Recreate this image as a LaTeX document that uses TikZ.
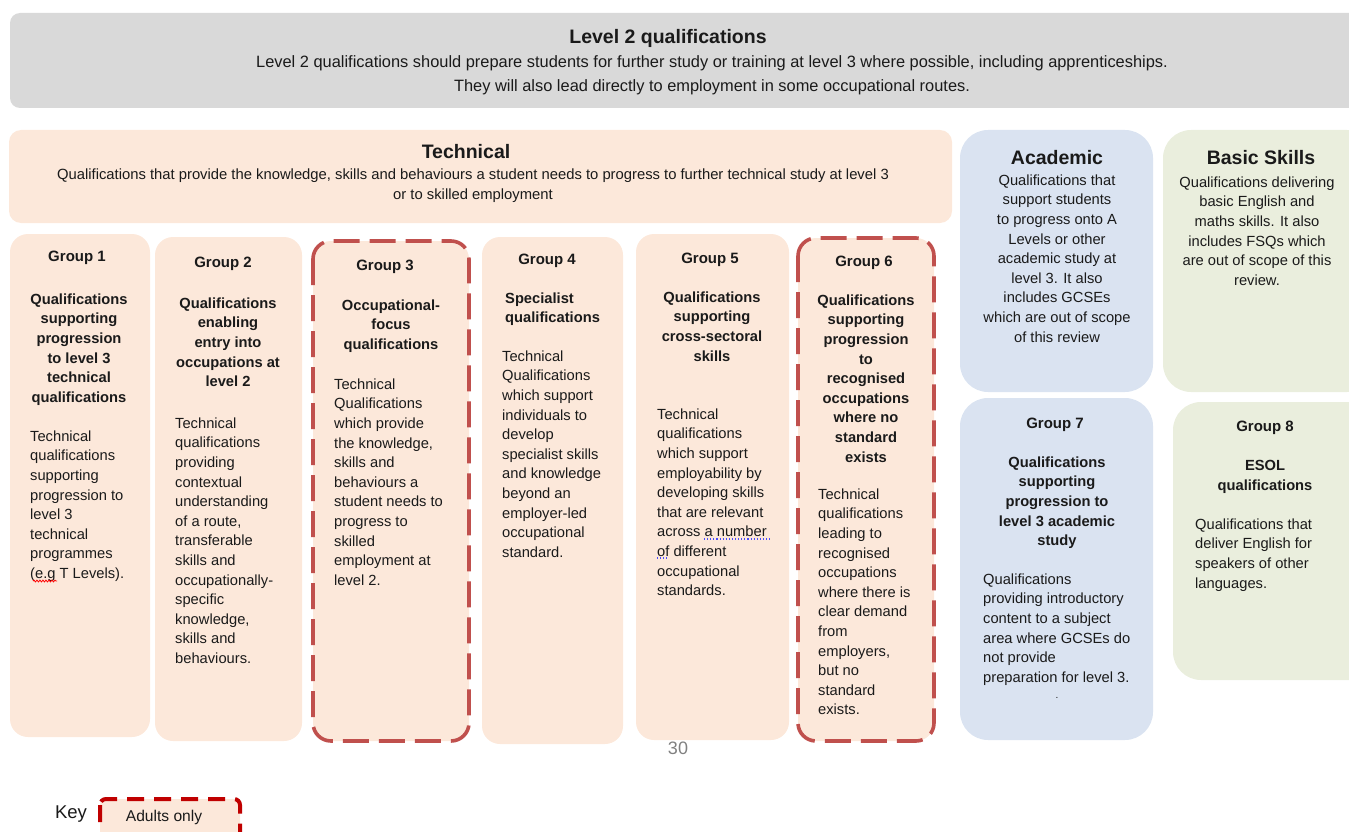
\documentclass[tikz,border=0pt]{standalone}
\usepackage{fontspec}
\setmainfont{Liberation Sans}
\usetikzlibrary{decorations.pathmorphing}
\definecolor{peach}{HTML}{FCE8DA}
\definecolor{bannergray}{HTML}{D9D9D9}
\definecolor{acblue}{HTML}{DAE3F1}
\definecolor{bsgreen}{HTML}{EAEEDD}
\definecolor{adultred}{HTML}{C0504D}
\definecolor{keyred}{HTML}{C00000}
\definecolor{txt}{HTML}{1A1A1A}
\begin{document}
\begin{tikzpicture}[x=1pt,y=-1pt,
  box/.style={fill=peach, rounded corners=18pt},
  adult/.style={draw=adultred, line width=3.6pt, dash pattern=on 26pt off 10pt},
  t/.style={inner sep=0pt, text=txt, font=\fontsize{14.7}{19.6}\selectfont, anchor=north west, align=left},
  tc/.style={t, anchor=north, align=center},
  bc/.style={tc, font=\bfseries\fontsize{14.7}{19.6}\selectfont},
  bl/.style={t, font=\bfseries\fontsize{14.7}{19.6}\selectfont},
  grp/.style={inner sep=0pt, text=txt, font=\bfseries\fontsize{15}{19.6}\selectfont, anchor=north},
  head/.style={inner sep=0pt, text=txt, font=\bfseries\fontsize{19.5}{24}\selectfont, anchor=north},
]
\useasboundingbox (0,0) rectangle (1349,832);

% banner
\path[fill=bannergray, rounded corners=10pt] (10,13) rectangle (1365,108);
\node[head] (bt) at (668,29.5) {Level 2 qualifications};
\node[tc, font=\fontsize{16.4}{24}\selectfont] (bb) at (712,55.5) {Level 2 qualifications should prepare students for further study or training at level 3 where possible, including apprenticeships.\\They will also lead directly to employment in some occupational routes.};

% technical
\path[fill=peach, rounded corners=12pt] (9,130) rectangle (952,223);
\node[head] (tt) at (466,144.5) {Technical};
\node[tc, font=\fontsize{14.8}{20}\selectfont] (tb) at (473,169) {Qualifications that provide the knowledge, skills and behaviours a student needs to progress to further technical study at level 3\\or to skilled employment};

% academic / basic skills
\path[fill=acblue, rounded corners=28pt] (960,130) rectangle (1153,392);
\node[head] (at) at (1057,150) {Academic};
\node[tc] (ab) at (1057,174.5) {Qualifications that\\support students\\to progress onto A\\Levels or other\\academic study at\\level 3. It also\\includes GCSEs\\which are out of scope\\of this review};

\path[fill=bsgreen, rounded corners=28pt] (1163,130) rectangle (1375,392);
\node[head] (st) at (1261,150) {Basic Skills};
\node[tc] (sb) at (1257,176.5) {Qualifications delivering\\basic English and\\maths skills. It also\\includes FSQs which\\are out of scope of this\\review.};

% group 1
\path[box] (10,234) rectangle (150,737);
\node[grp] (g1) at (77,250.5) {Group 1};
\node[bc] (g1h) at (79,293.5) {Qualifications\\supporting\\progression\\to level 3\\technical\\qualifications};
\node[t] (g1b) at (30,430.5) {Technical\\qualifications\\supporting\\progression to\\level 3\\technical\\programmes\\(e.g T Levels).};

% group 2
\path[box] (155,237) rectangle (302,741);
\node[grp] (g2) at (223,256.5) {Group 2};
\node[bc] (g2h) at (228,297.5) {Qualifications\\enabling\\entry into\\occupations at\\level 2};
\node[t] (g2b) at (175,417.5) {Technical\\qualifications\\providing\\contextual\\understanding\\of a route,\\transferable\\skills and\\occupationally-\\specific\\knowledge,\\skills and\\behaviours.};

% group 3
\path[box, adult] (313,241) rectangle (469,741);
\node[grp] (g3) at (385,259.5) {Group 3};
\node[bc] (g3h) at (391,299.5) {Occupational-\\focus\\qualifications};
\node[t] (g3b) at (334,378.5) {Technical\\Qualifications\\which provide\\the knowledge,\\skills and\\behaviours a\\student needs to\\progress to\\skilled\\employment at\\level 2.};

% group 4
\path[box] (482,237) rectangle (623,744);
\node[grp] (g4) at (547,253.5) {Group 4};
\node[bl] (g4h) at (505,292.5) {Specialist\\qualifications};
\node[t] (g4b) at (502,350.5) {Technical\\Qualifications\\which support\\individuals to\\develop\\specialist skills\\and knowledge\\beyond an\\employer-led\\occupational\\standard.};

% group 5
\path[box] (636,234) rectangle (789,740);
\node[grp] (g5) at (710,252.5) {Group 5};
\node[bc] (g5h) at (712,291.5) {Qualifications\\supporting\\cross-sectoral\\skills};
\node[t] (g5b) at (657,408.5) {Technical\\qualifications\\which support\\employability by\\developing skills\\that are relevant\\across a number\\of different\\occupational\\standards.};

% group 6
\path[box, adult] (798,238) rectangle (934,741);
\node[grp] (g6) at (864,255.5) {Group 6};
\node[bc] (g6h) at (866,294.5) {Qualifications\\supporting\\progression\\to\\recognised\\occupations\\where no\\standard\\exists};
\node[t] (g6b) at (818,488.5) {Technical\\qualifications\\leading to\\recognised\\occupations\\where there is\\clear demand\\from\\employers,\\but no\\standard\\exists.};

% group 7
\path[fill=acblue, rounded corners=28pt] (960,398) rectangle (1153,740);
\node[grp] (g7) at (1055,417.5) {Group 7};
\node[bc] (g7h) at (1057,456.5) {Qualifications\\supporting\\progression to\\level 3 academic\\study};
\node[t] (g7b) at (983,573.5) {Qualifications\\providing introductory\\content to a subject\\area where GCSEs do\\not provide\\preparation for level 3.};
\node[inner sep=0pt, text=txt, font=\fontsize{10}{12}\selectfont] (g7d) at (1057,698) {.};

% group 8
\path[fill=bsgreen, rounded corners=28pt] (1173,402) rectangle (1380,680);
\node[grp] (g8) at (1265,420.5) {Group 8};
\node[bc] (g8h) at (1265,460.5) {ESOL\\qualifications};
\node[t] (g8b) at (1195,518.5) {Qualifications that\\deliver English for\\speakers of other\\languages.};

% spell-check marks
\draw[red, line width=0.8pt, decorate, decoration={snake, amplitude=0.9pt, segment length=3pt}] (33,581) -- (57,581);
\draw[blue!70, dotted, line width=1.1pt] (704,539) -- (771,539);
\draw[blue!70, dotted, line width=1.1pt] (657,558) -- (669,558);

% page number
\node[inner sep=0pt, text=gray, font=\fontsize{18}{20}\selectfont] (pg) at (678,748) {30};

% key
\node[inner sep=0pt, text=txt, font=\fontsize{18.5}{20}\selectfont] (key) at (71,814) {Key};
\path[fill=peach, draw=keyred, line width=4pt, rounded corners=6pt, dash pattern=on 17pt off 10pt] (100,799) rectangle (240,850);
\node[inner sep=0pt, text=txt, font=\fontsize{15.6}{18}\selectfont] (ad) at (164,817) {Adults only};
\end{tikzpicture}
\end{document}
